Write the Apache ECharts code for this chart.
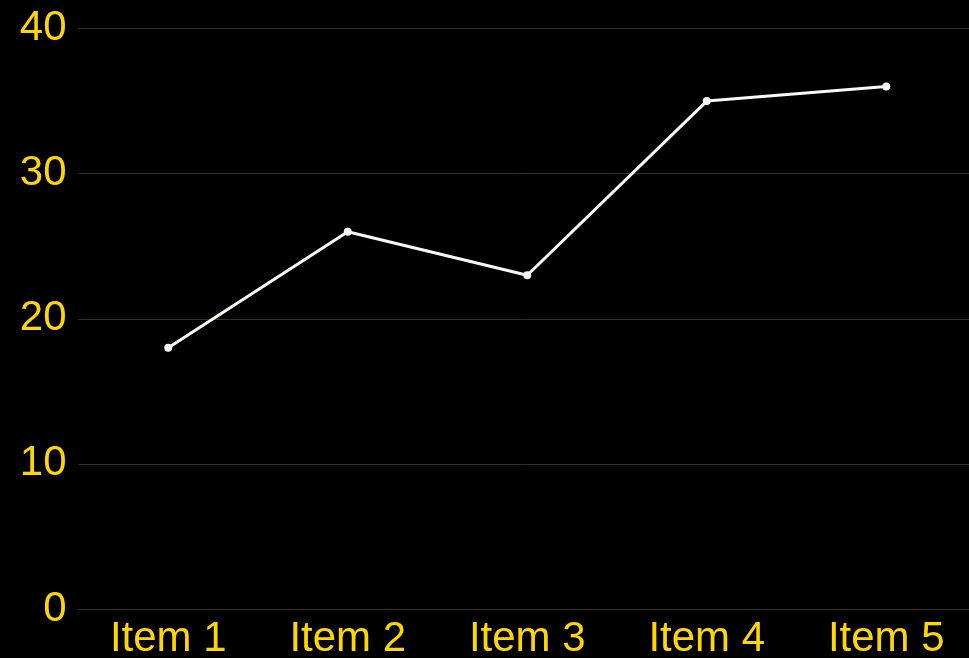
<!DOCTYPE html>
<html><head><meta charset="utf-8">
<script src="https://cdn.jsdelivr.net/npm/echarts@6/dist/echarts.min.js"></script>
<style>html,body{margin:0;padding:0;background:#000;}#c{width:969px;height:658px;}</style>
</head><body><div id="c"></div>
<script>
const categories = ['Item 1','Item 2','Item 3','Item 4','Item 5'];
const values = [18, 26, 23, 35, 36];
const yTicks = [0, 10, 20, 30, 40];

const chart = echarts.init(document.getElementById('c'), null, {renderer:'canvas'});
chart.setOption({
  backgroundColor: '#000000',
  animation: false,
  grid: {left: 78.5, width: 897.5, top: 28.5, height: 580.5, containLabel: false, outerBoundsMode: 'none'},
  xAxis: {
    type: 'category', data: categories, boundaryGap: true,
    axisLine: {show: true, lineStyle: {color: '#3a3200', width: 1}},
    axisTick: {show: false},
    axisLabel: {color: '#FFD700', fontSize: 42, fontFamily: 'Liberation Sans', margin: 9}
  },
  yAxis: {
    type: 'value', min: yTicks[0], max: yTicks[yTicks.length-1], interval: 10,
    axisLine: {show: false}, axisTick: {show: false},
    splitLine: {lineStyle: {color: '#3a3200', width: 1}},
    axisLabel: {color: '#FFD700', fontSize: 42, fontFamily: 'Liberation Sans', margin: 12}
  },
  series: [{
    type: 'line', data: values,
    symbol: 'circle', symbolSize: 8,
    lineStyle: {color: '#f8f8f8', width: 3},
    itemStyle: {color: '#f8f8f8'}
  }]
});
</script></body></html>
